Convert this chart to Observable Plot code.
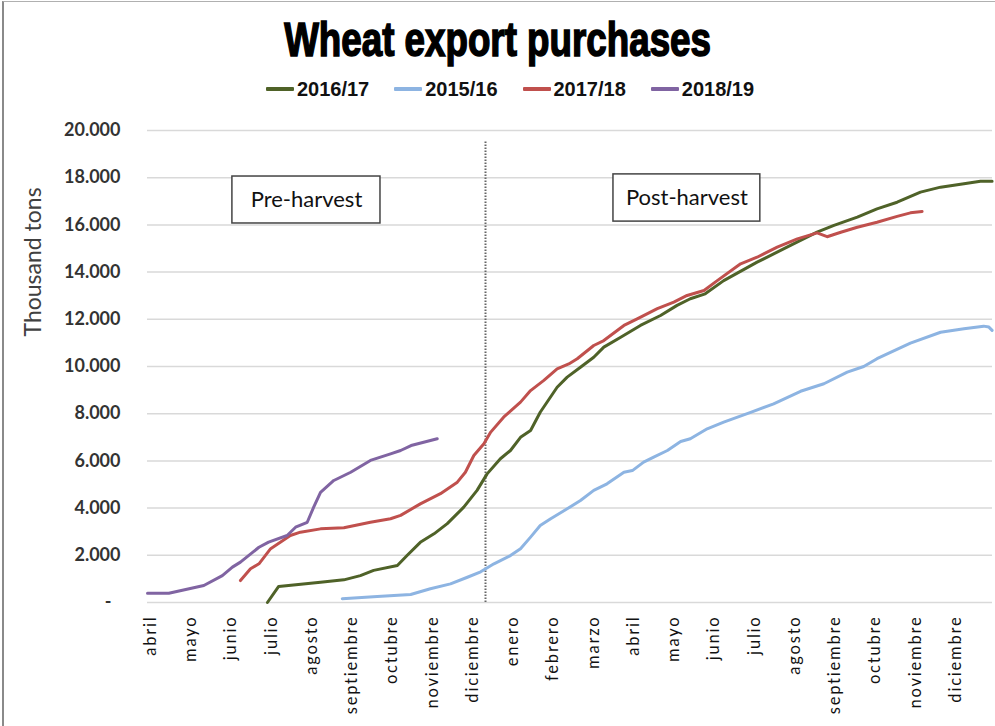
<!DOCTYPE html>
<html>
<head>
<meta charset="utf-8">
<script src="https://cdn.jsdelivr.net/npm/d3@7"></script>
<script src="https://cdn.jsdelivr.net/npm/@observablehq/plot@0.6"></script>
<style>
  html, body { margin: 0; padding: 0; background: #fff; }
  #wrap { position: relative; width: 995px; height: 726px; overflow: hidden; background: #fff; }
  #frame { position: absolute; left: 2px; top: 1px; width: 1000px; height: 800px; border-left: 2px solid #8a8a8a; border-top: 1px solid #b0b0b0; }
  #title { position: absolute; left: 0; top: 11px; width: 995px; text-align: center; font-family: "Liberation Sans", Arial, sans-serif; font-weight: 900; font-size: 49px; line-height: 56px; color: #000; -webkit-text-stroke: 1.6px #000; }
  #title span { display: inline-block; transform: scaleX(0.75); transform-origin: center; white-space: nowrap; }
  #legend { position: absolute; left: 25px; top: 77px; width: 970px; height: 24px; display: flex; justify-content: center; align-items: center; gap: 25px; font-family: "Liberation Sans", Arial, sans-serif; font-weight: bold; font-size: 20px; color: #111; }
  .item { display: flex; align-items: center; }
  .sw { width: 28px; height: 3.5px; margin-right: 3px; border-radius: 1px; }
  #chart { position: absolute; left: 0; top: 110px; }
  #chart svg { font-family: Lato, "Open Sans", sans-serif; }
</style>
</head>
<body>
<div id="wrap">
  <div id="frame"></div>
  <div id="title"><span>Wheat export purchases</span></div>
  <div id="legend"></div>
  <div id="chart"></div>
</div>
<script>
// Month categories (x axis), two seasons side by side
const months = ["abril","mayo","junio","julio","agosto","septiembre","octubre","noviembre","diciembre",
  "enero","febrero","marzo","abril","mayo","junio","julio","agosto","septiembre","octubre","noviembre","diciembre"];
const yTicks = [0,2000,4000,6000,8000,10000,12000,14000,16000,18000,20000];

// [month position, thousand tons]
const s2016_17 = [[2.90,0],[3.18,680],[4.22,860],[4.80,960],[5.21,1140],[5.54,1360],[6.13,1570],[6.37,1990],[6.70,2550],[7.04,2910],[7.37,3340],[7.78,4040],[8.11,4750],[8.36,5450],[8.69,6090],[8.94,6440],[9.19,7000],[9.44,7290],[9.68,8060],[10.10,9120],[10.35,9550],[10.68,9970],[11.01,10390],[11.26,10820],[11.68,11240],[12.17,11740],[12.67,12160],[13.08,12590],[13.41,12870],[13.78,13080],[14.24,13640],[15.07,14420],[15.90,15130],[16.56,15690],[16.98,15980],[17.56,16330],[18.05,16680],[18.55,16960],[19.13,17390],[19.63,17600],[20.21,17740],[20.62,17850],[20.91,17850]];
const s2015_16 = [[4.76,160],[5.63,250],[6.46,340],[6.95,580],[7.45,790],[7.87,1070],[8.20,1300],[8.53,1640],[8.94,1990],[9.19,2280],[9.44,2770],[9.68,3260],[9.94,3550],[10.35,3970],[10.68,4320],[11.01,4750],[11.34,5030],[11.76,5520],[11.97,5590],[12.25,5950],[12.50,6160],[12.84,6440],[13.17,6820],[13.41,6940],[13.83,7360],[14.24,7640],[14.91,8060],[15.48,8420],[16.15,8950],[16.73,9270],[17.31,9760],[17.72,10000],[18.05,10330],[18.88,10990],[19.63,11450],[20.21,11600],[20.70,11710],[20.83,11670],[20.91,11530]];
const s2017_18 = [[2.23,930],[2.48,1430],[2.69,1640],[2.98,2280],[3.23,2560],[3.47,2840],[3.72,2980],[4.22,3120],[4.80,3170],[5.46,3400],[5.96,3550],[6.21,3690],[6.70,4180],[7.20,4610],[7.62,5100],[7.82,5520],[8.03,6230],[8.28,6730],[8.45,7220],[8.77,7850],[9.19,8490],[9.44,8980],[9.77,9410],[10.10,9900],[10.39,10110],[10.60,10330],[11.01,10890],[11.26,11100],[11.76,11740],[12.09,12020],[12.59,12450],[13.00,12730],[13.33,13010],[13.75,13220],[14.08,13640],[14.66,14350],[15.07,14630],[15.57,15060],[16.07,15410],[16.56,15660],[16.81,15500],[17.15,15690],[17.56,15900],[18.05,16110],[18.55,16360],[18.88,16510],[19.17,16570]];
const s2018_19 = [[-0.08,390],[0.45,390],[1.32,720],[1.78,1140],[2.03,1500],[2.23,1710],[2.69,2340],[2.93,2560],[3.39,2840],[3.60,3190],[3.89,3400],[4.05,4040],[4.22,4670],[4.55,5170],[4.97,5520],[5.46,6020],[5.96,6300],[6.21,6440],[6.47,6650],[7.12,6940]];

const seriesNames = ["2016/17","2015/16","2017/18","2018/19"];
const seriesColors = ["#4f6228","#8db4e2","#c0504d","#8064a2"];
const seriesData = [s2016_17, s2015_16, s2017_18, s2018_19];

// Harvest divider and annotation boxes
const divider = [{x: 8.32, top: 19580}];
const notes = [
  {label: "Pre-harvest", x1: 2.03, x2: 5.71, y1: 16060, y2: 18050},
  {label: "Post-harvest", x1: 11.50, x2: 15.15, y1: 16140, y2: 18140}
];

const rows = seriesData.flatMap((arr, k) => arr.map(([m, v]) => ({series: seriesNames[k], m, v})));

const loc = d3.formatLocale({decimal: ",", thousands: ".", grouping: [3], currency: ["", ""]});
const fmt = loc.format(",.0f");
const yFormat = v => v === 0 ? "-\u2002" : fmt(v);

// Legend
const legend = document.getElementById("legend");
seriesNames.forEach((n, k) => {
  const it = document.createElement("div"); it.className = "item";
  const sw = document.createElement("div"); sw.className = "sw"; sw.style.background = seriesColors[k];
  const tx = document.createElement("span"); tx.textContent = n;
  it.appendChild(sw); it.appendChild(tx); legend.appendChild(it);
});

const chart = Plot.plot({
  width: 995,
  height: 616,
  marginLeft: 147,
  marginRight: 3,
  marginTop: 20,
  marginBottom: 124,
  x: {type: "linear", domain: [-0.08, 20.92]},
  y: {domain: [0, 20000]},
  color: {domain: seriesNames, range: seriesColors},
  marks: [
    Plot.ruleY(yTicks, {stroke: "#d9d9d9", strokeWidth: 1.5}),
    Plot.axisY({ticks: yTicks, tickSize: 0, tickPadding: 27, tickFormat: yFormat, fontSize: 18, fontWeight: "bold", fill: "#333", label: null}),
    Plot.axisX({ticks: d3.range(months.length), tickFormat: i => months[i], tickRotate: -90, tickSize: 0, tickPadding: 13, fontSize: 16.5, fill: "#111", label: null}),
    Plot.text(["Thousand tons"], {frameAnchor: "left", dx: -114, dy: -30, rotate: -90, fontSize: 23, fill: "#404040"}),
    Plot.ruleX(divider, {x: "x", y1: 0, y2: "top", stroke: "#666", strokeWidth: 2, strokeDasharray: "1.5 1.5"}),
    Plot.rect(notes, {x1: "x1", x2: "x2", y1: "y1", y2: "y2", fill: "white", stroke: "#444", strokeWidth: 1.5}),
    Plot.text(notes, {x: d => (d.x1 + d.x2) / 2, y: d => (d.y1 + d.y2) / 2, text: "label", fontSize: 22, fill: "#111"}),
    Plot.line(rows, {x: "m", y: "v", z: "series", stroke: "series", strokeWidth: 3, strokeLinejoin: "round", strokeLinecap: "round"})
  ]
});
document.getElementById("chart").appendChild(chart);
chart.querySelectorAll('[aria-label="x-axis tick label"] text').forEach(t => t.style.letterSpacing = "1.8px");
</script>
</body>
</html>
